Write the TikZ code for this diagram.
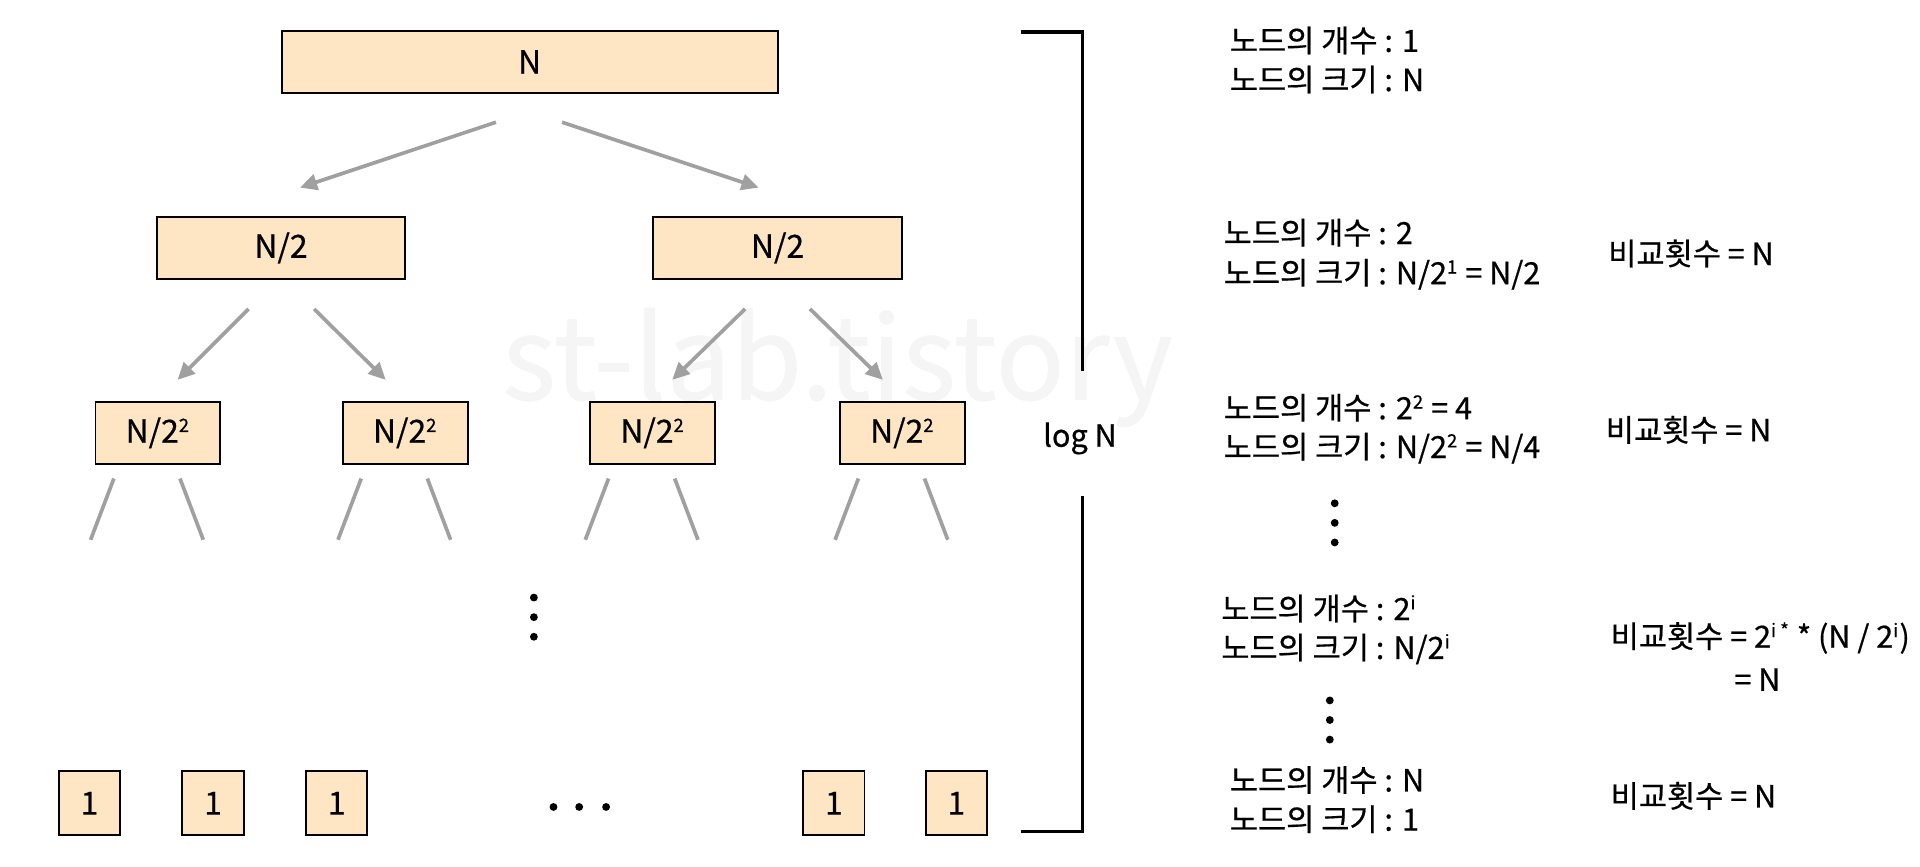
\documentclass[tikz,border=0pt]{standalone}
\usepackage{fontspec}
\setmainfont{Noto Sans CJK KR}[FakeBold=0.6]
\usetikzlibrary{arrows.meta}

\definecolor{boxfill}{HTML}{FEE6C4}
\definecolor{arrgray}{HTML}{A0A0A0}

\newcommand{\upidx}[1]{\textsuperscript{\fontsize{7.5}{8}\selectfont #1}}

\tikzset{
  sortbox/.style={draw=black, line width=0.8pt, fill=boxfill, minimum height=25.5pt, inner sep=0pt, font=\fontsize{13}{15}\selectfont},
  arr/.style={draw=arrgray, line width=1.5pt, -{Triangle[length=7pt,width=6.5pt]}},
  stub/.style={draw=arrgray, line width=1.5pt},
  info/.style={anchor=west, inner sep=0pt, font=\fontsize{12.5}{15}\selectfont},
  brace/.style={draw=black, line width=1.5pt}
}

\begin{document}
\begin{tikzpicture}[x=0.5pt,y=-0.5pt]
\useasboundingbox (0,0) rectangle (1568,708);

%watermark
\node[text=black!4, font=\fontsize{47}{50}\selectfont] (wm) at (684,300) {st-lab.tistory};

%draw the tree levels
\node[sortbox, minimum width=202.5pt] (root) at (432.5,50.5) {N};
\node[sortbox, minimum width=101.5pt] (l1) at (229.5,202.5) {N/2};
\node[sortbox, minimum width=101.5pt] (r1) at (635,202.5) {N/2};

\foreach \i/\x in {1/129, 2/331, 3/533, 4/737}
  \node[sortbox, minimum width=51pt] (q\i) at (\x,353.5) {N/2\upidx{2}};

\foreach \i/\x in {1/73, 2/174, 3/275, 4/681, 5/781}
  \node[sortbox, minimum width=25pt, minimum height=26pt] (leaf\i) at (\x,656) {1};

%arrows between levels
\draw[arr] ([shift={(-27.5,23)}]root.south) -- ([shift={(15.5,-23)}]l1.north);
\draw[arr] ([shift={(26.5,23)}]root.south) -- ([shift={(-15.5,-23)}]r1.north);
\draw[arr] ([shift={(-26.5,23.5)}]l1.south) -- ([shift={(16,-17)}]q1.north);
\draw[arr] ([shift={(27,23.5)}]l1.south) -- ([shift={(-16,-17)}]q2.north);
\draw[arr] ([shift={(-26.5,23.5)}]r1.south) -- ([shift={(16,-17)}]q3.north);
\draw[arr] ([shift={(26.5,23.5)}]r1.south) -- ([shift={(-16,-17)}]q4.north);

%open branches below the third level
\foreach \i in {1,...,4} {
  \draw[stub] ([shift={(-36,11)}]q\i.south) -- ([shift={(-55,61)}]q\i.south);
  \draw[stub] ([shift={(18,11)}]q\i.south) -- ([shift={(37,61)}]q\i.south);
}

%dots
\foreach \y in {488,504,520} \fill (436,\y) circle (1.6pt);
\foreach \x in {452,473,495} \fill (\x,659) circle (1.6pt);
\foreach \y in {411,427,443} \fill (1090,\y) circle (1.6pt);
\foreach \y in {572,588,604} \fill (1086,\y) circle (1.6pt);

%height bracket
\node[font=\fontsize{12.5}{15}\selectfont] (logn) at (882,358) {log N};
\draw[brace] (834,26) -- (884,26) -- (884,303);
\draw[brace] (884,405) -- (884,679) -- (834,679);

%level info
\node[info] (c0) at (1004,33) {노드의 개수 : 1};
\node[info] (s0) at (1004,65) {노드의 크기 : N};
\node[info] (c1) at (999,190) {노드의 개수 : 2};
\node[info] (s1) at (999,224) {노드의 크기 : N/2\upidx{1} = N/2};
\node[info] (k1) at (1313,207) {비교횟수 = N};
\node[info] (c2) at (999,333) {노드의 개수 : 2\upidx{2} = 4};
\node[info] (s2) at (999,366) {노드의 크기 : N/2\upidx{2} = N/4};
\node[info] (k2) at (1311,351) {비교횟수 = N};
\node[info] (ci) at (997,497) {노드의 개수 : 2\upidx{i}};
\node[info] (si) at (997,530) {노드의 크기 : N/2\upidx{i}};
\node[info] (ki) at (1315,521) {비교횟수 = 2\upidx{i *} * (N / 2\upidx{i})};
\node[info] (ki2) at (1416,555) {= N};
\node[info] (cn) at (1004,637) {노드의 개수 : N};
\node[info] (sn) at (1004,669) {노드의 크기 : 1};
\node[info] (kn) at (1315,650) {비교횟수 = N};

\end{tikzpicture}
\end{document}
